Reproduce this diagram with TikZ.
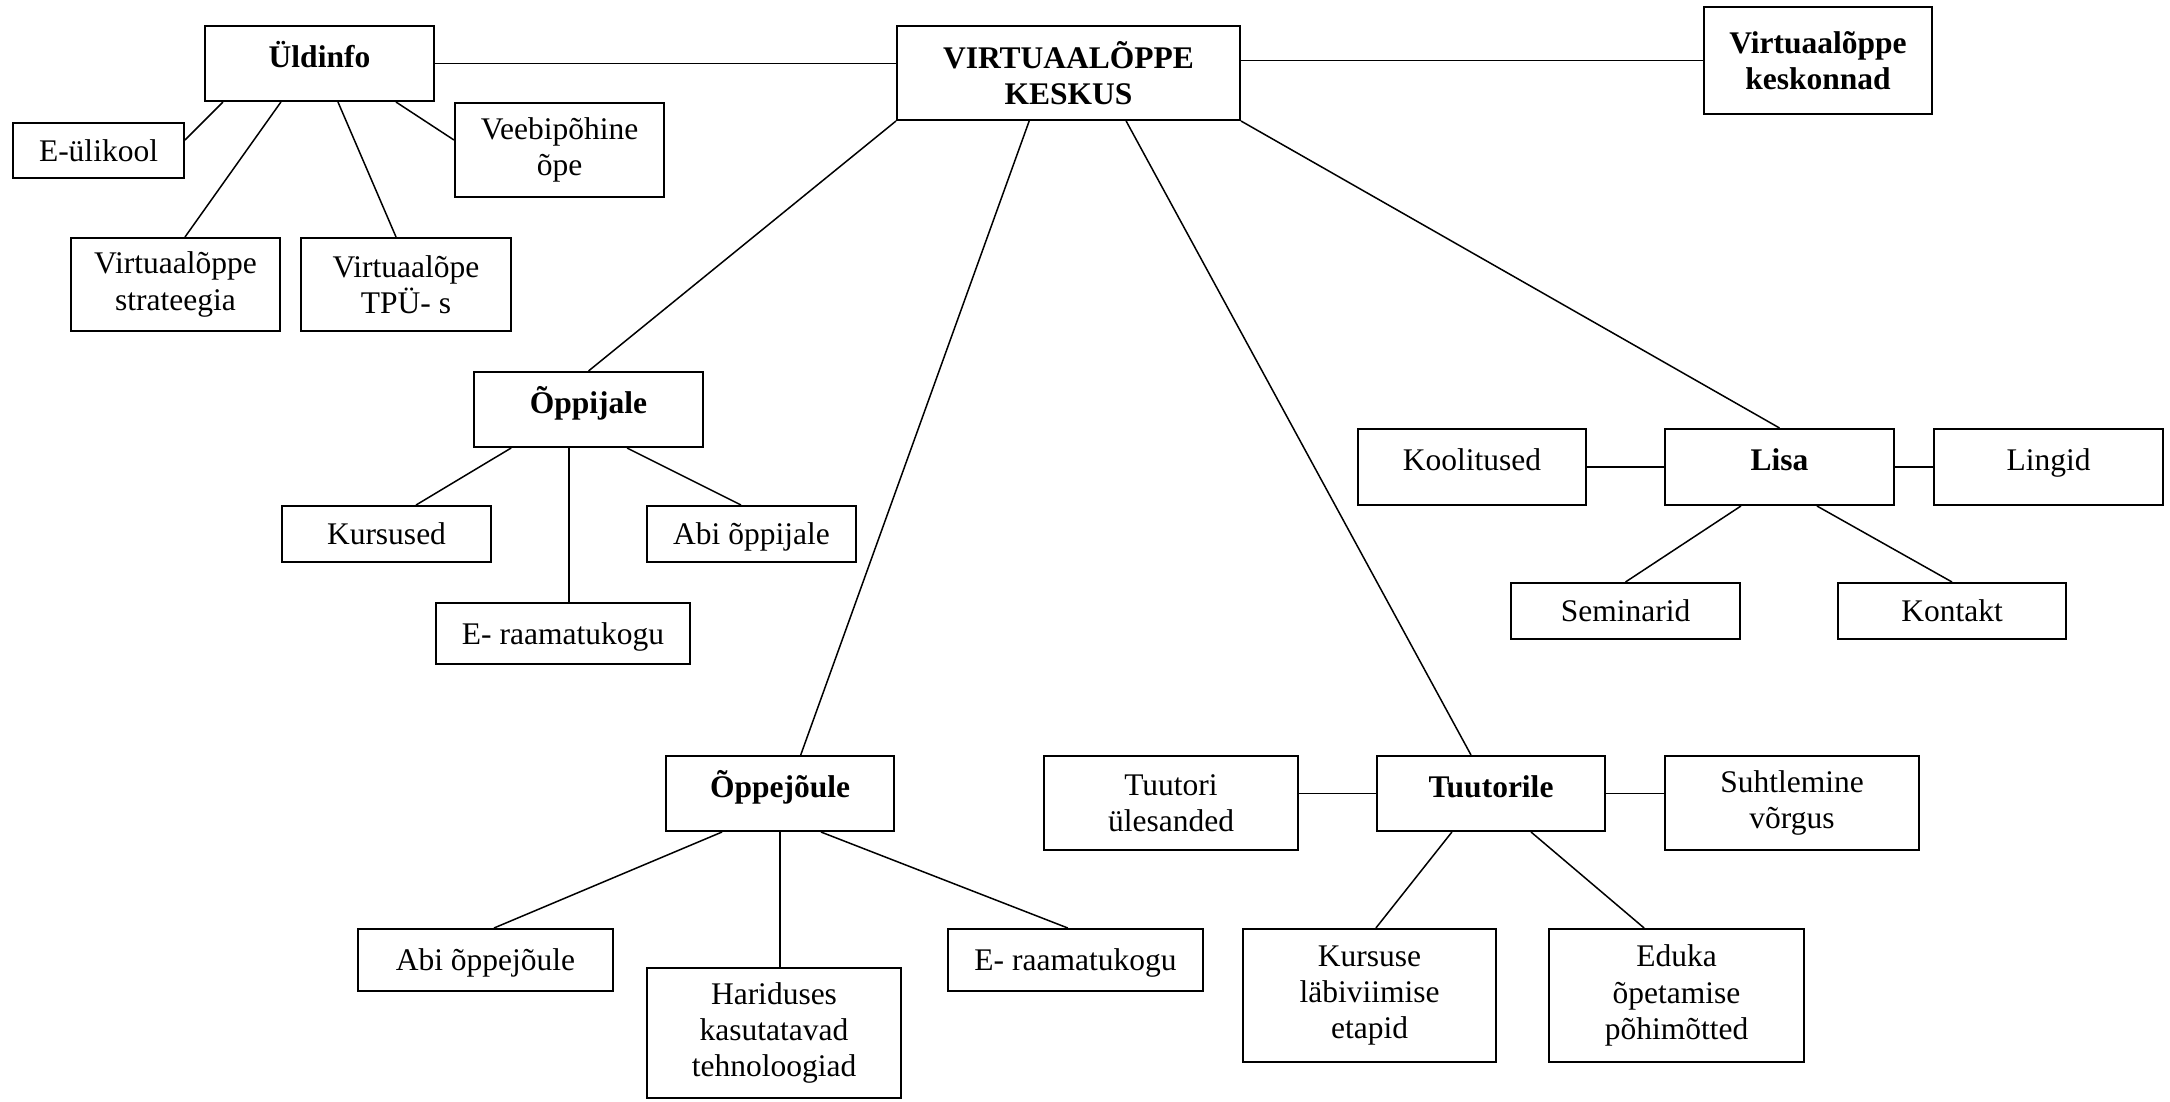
\documentclass[tikz,border=0pt]{standalone}
\usepackage{fontspec}
\setmainfont{Liberation Serif}
\usepackage{tikz}
\usetikzlibrary{calc}
\tikzstyle{box}=[draw, line width=2pt, inner sep=0pt, align=center, font=\fontsize{31.5}{36.2}\selectfont]
\tikzstyle{single}=[box, text height=21pt, text depth=0pt]
\tikzstyle{raised}=[box, text height=21pt, text depth=14pt]
\tikzstyle{hd}=[font=\fontsize{31.5}{36.2}\selectfont\bfseries]
\tikzstyle{link}=[line width=1.5pt]

\begin{document}
\begin{tikzpicture}[x=1pt, y=-1pt]
  \useasboundingbox (0,0) rectangle (2170,1101);

  \node[box,hd,minimum width=343pt,minimum height=94pt] (ctr) at (1068.5,73) {VIRTUAALÕPPE\\KESKUS};
  \node[box,hd,minimum width=228pt,minimum height=107pt] (kesk) at (1818,60.5) {Virtuaalõppe\\keskonnad};

  \node[raised,hd,minimum width=229pt,minimum height=75pt] (uld) at (319.5,63.5) {Üldinfo};
  \node[single,minimum width=171pt,minimum height=55pt] (eul) at (98.5,150.5) {E-ülikool};
  \node[box,minimum width=209pt,minimum height=94pt] (veeb) at (559.5,150) {Veebipõhine\\õpe};
  \node[box,minimum width=209pt,minimum height=93pt] (strat) at (175.5,284.5) {Virtuaalõppe\\strateegia};
  \node[box,minimum width=210pt,minimum height=93pt] (tpu) at (406,284.5) {Virtuaalõpe\\TPÜ- s};

  \node[raised,hd,minimum width=229pt,minimum height=75pt] (oppija) at (588.5,409.5) {Õppijale};
  \node[single,minimum width=209pt,minimum height=56pt] (kurs) at (386.5,534) {Kursused};
  \node[single,minimum width=209pt,minimum height=56pt] (abiop) at (751.5,534) {Abi õppijale};
  \node[single,minimum width=254pt,minimum height=61pt] (eraam1) at (563,633.5) {E- raamatukogu};

  \node[raised,hd,minimum width=229pt,minimum height=76pt] (lisa) at (1779.5,467) {Lisa};
  \node[raised,minimum width=228pt,minimum height=76pt] (kool) at (1472,467) {Koolitused};
  \node[raised,minimum width=229pt,minimum height=76pt] (ling) at (2048.5,467) {Lingid};
  \node[single,minimum width=229pt,minimum height=56pt] (sem) at (1625.5,611) {Seminarid};
  \node[single,minimum width=228pt,minimum height=56pt] (kont) at (1952,611) {Kontakt};

  \node[raised,hd,minimum width=228pt,minimum height=75pt] (oppej) at (780,793.5) {Õppejõule};
  \node[single,minimum width=255pt,minimum height=62pt] (abioj) at (485.5,960) {Abi õppejõule};
  \node[box,minimum width=254pt,minimum height=130pt] (harid) at (774,1033) {Hariduses\\kasutatavad\\tehnoloogiad};
  \node[single,minimum width=255pt,minimum height=62pt] (eraam2) at (1075.5,960) {E- raamatukogu};

  \node[raised,hd,minimum width=228pt,minimum height=75pt] (tuut) at (1491,793.5) {Tuutorile};
  \node[box,minimum width=254pt,minimum height=94pt] (tuuul) at (1171,803) {Tuutori\\ülesanded};
  \node[box,minimum width=254pt,minimum height=94pt] (suht) at (1792,803) {Suhtlemine\\võrgus};
  \node[box,minimum width=253pt,minimum height=133pt] (kursl) at (1369.5,995.5) {Kursuse\\läbiviimise\\etapid};
  \node[box,minimum width=255pt,minimum height=133pt] (eduka) at (1676.5,995.5) {Eduka\\õpetamise\\põhimõtted};

  \coordinate (oe) at ($(oppija.south west)!.416!(oppija.south east)$);

  \draw[link] (uld.east) -- (uld.east -| ctr.west);
  \draw[link] (kesk.west) -- (kesk.west -| ctr.east);
  \draw[link] ($(uld.south west)!.082!(uld.south east)$) -- ($(eul.north east)!.316!(eul.south east)$);
  \draw[link] ($(uld.south west)!.333!(uld.south east)$) -- ($(strat.north west)!.545!(strat.north east)$);
  \draw[link] ($(uld.south west)!.58!(uld.south east)$) -- ($(tpu.north west)!.453!(tpu.north east)$);
  \draw[link] ($(uld.south west)!.831!(uld.south east)$) -- ($(veeb.north west)!.396!(veeb.south west)$);

  \draw[link] (ctr.south west) -- (oppija.north);
  \draw[link] ($(ctr.south west)!.386!(ctr.south east)$) -- ($(oppej.north west)!.59!(oppej.north east)$);
  \draw[link] ($(ctr.south west)!.667!(ctr.south east)$) -- ($(tuut.north west)!.413!(tuut.north east)$);
  \draw[link] (ctr.south east) -- (lisa.north);

  \draw[link] ($(oppija.south west)!.165!(oppija.south east)$) -- ($(kurs.north west)!.64!(kurs.north east)$);
  \draw[link] (oe) -- (oe |- eraam1.north);
  \draw[link] ($(oppija.south west)!.667!(oppija.south east)$) -- ($(abiop.north west)!.45!(abiop.north east)$);

  \draw[link] (kool.east) -- (lisa.west);
  \draw[link] (lisa.east) -- (ling.west);
  \draw[link] ($(lisa.south west)!.333!(lisa.south east)$) -- (sem.north);
  \draw[link] ($(lisa.south west)!.662!(lisa.south east)$) -- (kont.north);

  \draw[link] ($(oppej.south west)!.248!(oppej.south east)$) -- ($(abioj.north west)!.533!(abioj.north east)$);
  \draw[link] (oppej.south) -- (oppej.south |- harid.north);
  \draw[link] ($(oppej.south west)!.678!(oppej.south east)$) -- ($(eraam2.north west)!.47!(eraam2.north east)$);

  \draw[link] (tuut.west) -- (tuut.west -| tuuul.east);
  \draw[link] (tuut.east) -- (tuut.east -| suht.west);
  \draw[link] ($(tuut.south west)!.33!(tuut.south east)$) -- ($(kursl.north west)!.525!(kursl.north east)$);
  \draw[link] ($(tuut.south west)!.674!(tuut.south east)$) -- ($(eduka.north west)!.374!(eduka.north east)$);
\end{tikzpicture}
\end{document}
